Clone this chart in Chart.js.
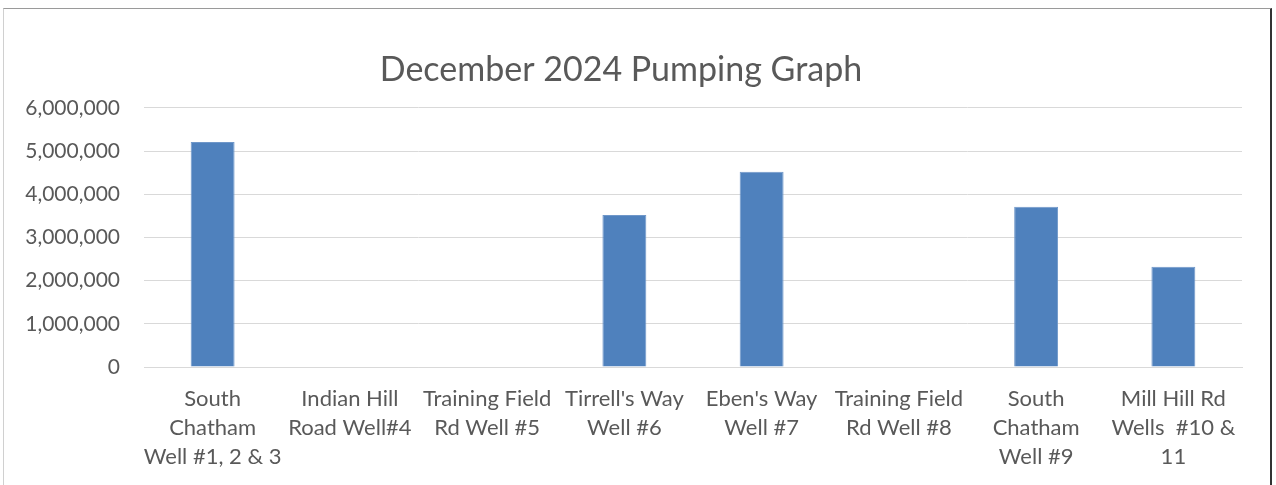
<!DOCTYPE html>
<html>
<head>
<meta charset="utf-8">
<script src="https://cdn.jsdelivr.net/npm/chart.js@4"></script>
<style>
  html, body { margin: 0; padding: 0; background: #fff; }
  #frame {
    position: absolute; left: 3px; top: 8px; width: 1266px; height: 490px;
    border-top: 1px solid #9a9a9a; border-left: 1px solid #d0d0d0; border-right: 2px solid #333;
  }
  #wrap { position: absolute; left: 0; top: 0; width: 1276px; height: 485px; }
</style>
</head>
<body>
<div id="frame"></div>
<div id="wrap"><canvas id="pumping"></canvas></div>
<script>
const wellLabels = [
    ['South', 'Chatham', 'Well #1, 2 & 3'],
    ['Indian Hill', 'Road Well#4'],
    ['Training Field', 'Rd Well #5'],
    ["Tirrell's Way", 'Well #6'],
    ["Eben's Way", 'Well #7'],
    ['Training Field', 'Rd Well #8'],
    ['South', 'Chatham', 'Well #9'],
    ['Mill Hill Rd', 'Wells  #10 &', '11']
];
const gallonsPumped = [5210000, 0, 0, 3520000, 4520000, 0, 3710000, 2320000];
const yTicks = [0, 1000000, 2000000, 3000000, 4000000, 5000000, 6000000];

const textColor = '#595959';
const fontFamily = 'Lato, "Open Sans", sans-serif';

new Chart(document.getElementById('pumping').getContext('2d'), {
    type: 'bar',
    data: {
        labels: wellLabels,
        datasets: [{
            label: 'Gallons',
            data: gallonsPumped,
            backgroundColor: '#4f81bd',
            borderColor: '#6f97c9',
            borderWidth: 1,
            barPercentage: 0.64,
            categoryPercentage: 0.5
        }]
    },
    options: {
        responsive: true,
        maintainAspectRatio: false,
        animation: false,
        layout: { padding: { top: 40, right: 34, bottom: 0, left: 0 } },
        plugins: {
            legend: { display: false },
            tooltip: { enabled: false },
            title: {
                display: true,
                text: 'December 2024 Pumping Graph',
                color: textColor,
                font: { family: fontFamily, size: 34, weight: 'normal' },
                padding: { top: 10, bottom: 17 }
            }
        },
        scales: {
            x: {
                grid: { display: false, drawTicks: false },
                border: { color: '#d9d9d9' },
                ticks: {
                    color: textColor,
                    font: { family: fontFamily, size: 22, lineHeight: 1.32 },
                    padding: 17,
                    maxRotation: 0,
                    autoSkip: false
                },
                afterFit: s => { s.height = 118; }
            },
            y: {
                min: 0,
                max: 6000000,
                afterBuildTicks: s => { s.ticks = yTicks.map(v => ({ value: v })); },
                grid: { color: '#d9d9d9', drawTicks: false },
                border: { display: false },
                ticks: {
                    color: textColor,
                    font: { family: fontFamily, size: 21 },
                    padding: 24,
                    callback: v => v.toLocaleString('en-US')
                },
                afterFit: s => { s.width = 144; }
            }
        }
    }
});
</script>
</body>
</html>
